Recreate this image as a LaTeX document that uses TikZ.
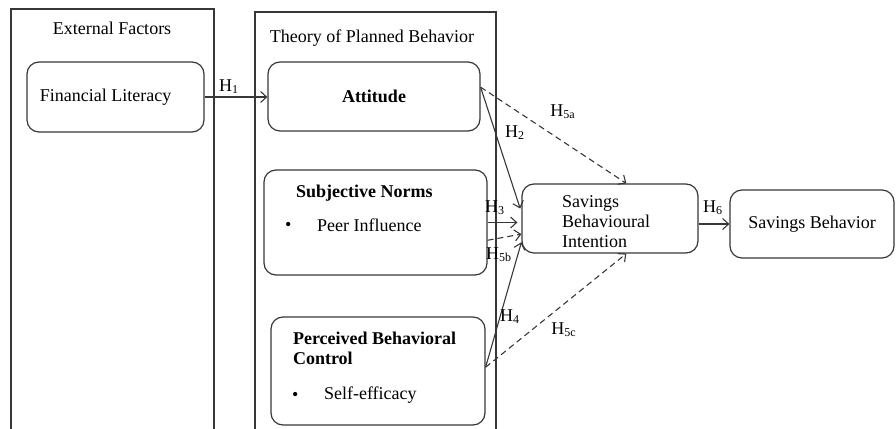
\documentclass[tikz,border=0pt]{standalone}
\usepackage{fontspec}
\setmainfont{Liberation Serif}
\usetikzlibrary{arrows.meta,positioning}
\definecolor{linegrey}{RGB}{55,55,55}

\begin{document}
\begin{tikzpicture}[x=0.5pt,y=-0.5pt,font=\fontsize{9}{10}\selectfont,
    box/.style={draw=linegrey,line width=0.6pt,rounded corners=6pt,inner sep=0pt},
    arr/.style={-{Straight Barb[length=3pt,width=5.5pt]},linegrey,line width=0.55pt},
    darr/.style={arr,dash pattern=on 3pt off 2pt},
    hyp/.style={inner sep=0pt}]
  \useasboundingbox (0,0) rectangle (896,429);
  % the two frames run off the bottom
  \draw[linegrey,line width=0.6pt] (11,429) |- (214,9) -- (214,429);
  \draw[linegrey,line width=0.6pt] (255,429) |- (496,12) -- (496,429);
  \node (extlab) at (112,28) {External Factors};
  \node (tpblab) at (372,38) {Theory of Planned Behavior};

  \node[box,minimum width=88.5pt,minimum height=35pt] (fl) at (115.5,97) {\hspace*{-10pt}Financial Literacy};
  \node[box,minimum width=106pt,minimum height=34.5pt,font=\fontsize{9}{10}\selectfont\bfseries] (att) at (374,96.5) {Attitude};
  \node[box,minimum width=111.5pt,minimum height=52.5pt] (sn) at (375.5,222.5) {};
  \node[box,minimum width=107pt,minimum height=54pt] (pbc) at (378,371) {};
  \node[box,minimum width=88pt,minimum height=34.5pt] (sbi) at (610,218.5) {};
  \node[box,minimum width=82pt,minimum height=34pt] (sb) at (812,224) {Savings Behavior};

  \node[anchor=west,font=\fontsize{9}{10}\selectfont\bfseries] (sntitle) at (289,193) {Subjective Norms};
  \node[anchor=west] (snbul) at (278,226) {\textbullet};
  \node[anchor=west] (snitem) at (310,225) {Peer Influence};
  \node[anchor=west,align=left,font=\fontsize{9}{10}\selectfont\bfseries] (pbctitle) at (286,348) {Perceived Behavioral\\Control};
  \node[anchor=west] (pbcbul) at (285,396) {\textbullet};
  \node[anchor=west] (pbcitem) at (317,395) {Self-efficacy};
  \node[anchor=west,align=left] (sbitext) at (555,222) {Savings\\Behavioural\\Intention};

  \draw[arr] (fl.east) -- (fl.east -| att.west);
  \draw[arr,shorten >=2pt] (att.5) -- (sbi.176);
  \draw[arr,shorten >=2pt] (sn.east) -- (sn.east -| sbi.west);
  \draw[darr] (sn.-9) -- (sbi.190);
  \draw[arr] (pbc.2) -- (sbi.195);
  \draw[darr] (att.5) -- (sbi.65);
  \draw[darr] (pbc.2) -- (sbi.-65);
  \draw[arr] (sbi.east |- sb.west) -- (sb.west);

  \node[hyp] (h1) at (229,87) {H\textsubscript{1}};
  \node[hyp] (h2) at (515,133) {H\textsubscript{2}};
  \node[hyp] (h3) at (495,208) {H\textsubscript{3}};
  \node[hyp] (h4) at (510,317) {H\textsubscript{4}};
  \node[hyp] (h5a) at (563,112) {H\textsubscript{5a}};
  \node[hyp] (h5b) at (499,255) {H\textsubscript{5b}};
  \node[hyp] (h5c) at (564,330) {H\textsubscript{5c}};
  \node[hyp] (h6) at (713,208) {H\textsubscript{6}};
\end{tikzpicture}
\end{document}
